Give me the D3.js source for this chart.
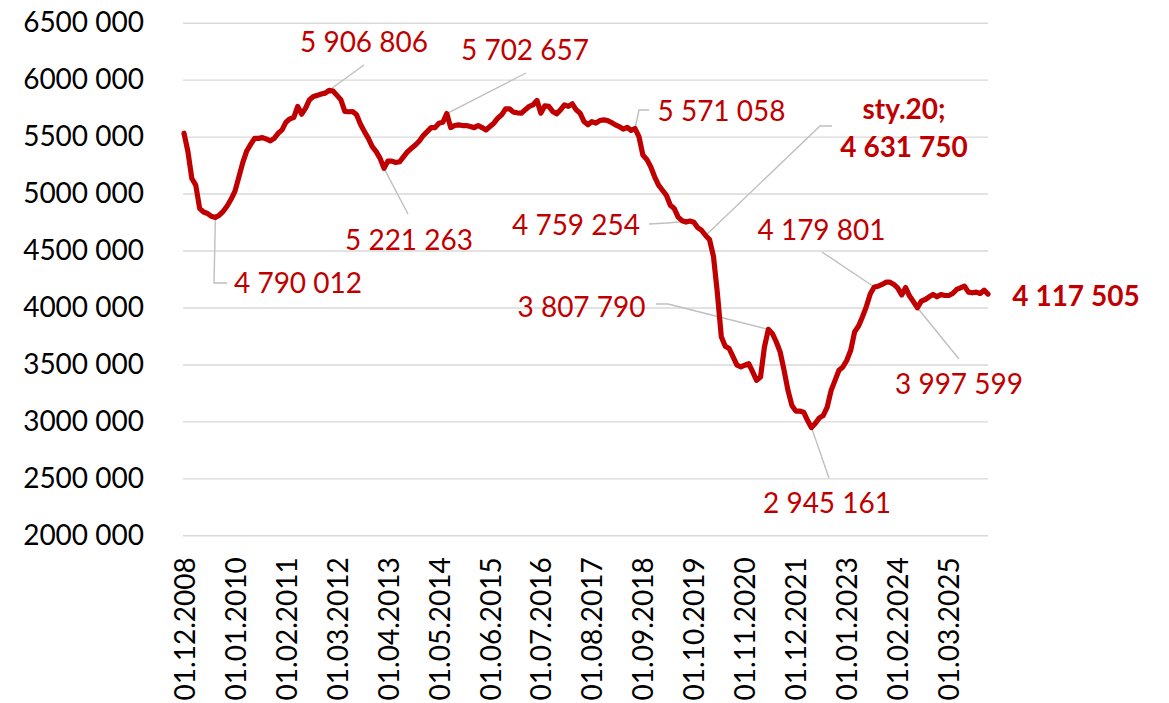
<!DOCTYPE html>
<html>
<head>
<meta charset="utf-8">
<script src="https://cdnjs.cloudflare.com/ajax/libs/d3/7.8.5/d3.min.js"></script>
<style>
  html, body { margin: 0; padding: 0; background: #ffffff; }
  svg { display: block; }
  text { font-family: Lato, "Noto Sans", sans-serif; }
</style>
</head>
<body>
<svg id="chart" width="1169" height="703"></svg>
<script>
// ---------------- data ----------------
const startMonth = [2008, 12];      // first category: 01.12.2008 (monthly series)
const values = [
  5530000, 5368000, 5132000, 5074000, 4868000, 4838000, 4825000, 4800000, 4790012, 4810000,
  4844000, 4891000, 4950000, 5021000, 5147000, 5274000, 5374000, 5432000, 5485000, 5485000,
  5491000, 5479000, 5462000, 5485000, 5529000, 5559000, 5627000, 5656000, 5668000, 5765000,
  5697000, 5750000, 5824000, 5853000, 5862000, 5874000, 5882000, 5906806, 5900000, 5862000,
  5824000, 5721000, 5718000, 5720000, 5691000, 5609000, 5544000, 5485000, 5412000, 5368000,
  5309000, 5221263, 5285000, 5285000, 5273000, 5279000, 5324000, 5368000, 5397000, 5426000,
  5462000, 5509000, 5544000, 5579000, 5579000, 5618000, 5626000, 5702657, 5579000, 5597000,
  5603000, 5597000, 5597000, 5588000, 5579000, 5597000, 5579000, 5559000, 5588000, 5618000,
  5662000, 5691000, 5744000, 5744000, 5715000, 5709000, 5706000, 5735000, 5765000, 5779000,
  5818000, 5706000, 5771000, 5765000, 5721000, 5700000, 5735000, 5779000, 5765000, 5788000,
  5735000, 5706000, 5632000, 5603000, 5632000, 5618000, 5641000, 5647000, 5641000, 5624000,
  5603000, 5588000, 5565000, 5582000, 5555000, 5571058, 5500000, 5338000, 5300000, 5235000,
  5147000, 5074000, 5029000, 4985000, 4897000, 4868000, 4794000, 4762000, 4750000, 4759254,
  4748000, 4700000, 4676000, 4631750, 4596000, 4449000, 4125000, 3743000, 3660000, 3640000,
  3566000, 3493000, 3478000, 3493000, 3507000, 3434000, 3360000, 3390000, 3654000, 3807790,
  3772000, 3699000, 3610000, 3449000, 3272000, 3140000, 3090000, 3090000, 3081000, 3007000,
  2945161, 2984000, 3031000, 3052000, 3125000, 3272000, 3360000, 3449000, 3478000, 3537000,
  3625000, 3787000, 3837000, 3919000, 4010000, 4120000, 4179801, 4187000, 4202000, 4222000,
  4222000, 4202000, 4170000, 4110000, 4175000, 4100000, 4050000, 3997599, 4056000, 4070000,
  4094000, 4114000, 4094000, 4114000, 4105000, 4105000, 4123000, 4158000, 4173000, 4187000,
  4135000, 4129000, 4135000, 4123000, 4152000, 4117505
];
const xTickLabels = [
  "01.12.2008", "01.01.2010", "01.02.2011", "01.03.2012", "01.04.2013", "01.05.2014",
  "01.06.2015", "01.07.2016", "01.08.2017", "01.09.2018", "01.10.2019", "01.11.2020",
  "01.12.2021", "01.01.2023", "01.02.2024", "01.03.2025"
];
const yTickValues = [2000000, 2500000, 3000000, 3500000, 4000000, 4500000, 5000000, 5500000, 6000000, 6500000];
const yTickLabels = ["2000 000", "2500 000", "3000 000", "3500 000", "4000 000", "4500 000", "5000 000", "5500 000", "6000 000", "6500 000"];
// annotated points: category label and printed text
const annotationDates = ["01.08.2009", "01.01.2012", "01.03.2013", "01.07.2014", "01.07.2018", "01.09.2019", "01.05.2021", "01.04.2022", "01.08.2023", "01.07.2024"];
const annotationTexts = ["4 790 012", "5 906 806", "5 221 263", "5 702 657", "5 571 058", "4 759 254", "3 807 790", "2 945 161", "4 179 801", "3 997 599"];
const highlightDate = "01.01.2020";
const highlightLines = ["sty.20;", "4 631 750"];
const lastText = "4 117 505";

// categories (monthly dates)
const categories = values.map((_, i) => {
  const m0 = startMonth[1] - 1 + i;
  const y = startMonth[0] + Math.floor(m0 / 12);
  const m = (m0 % 12) + 1;
  return "01." + String(m).padStart(2, "0") + "." + y;
});

// ---------------- layout ----------------
const RED = "#c00000";
const GRID = "#d9d9d9";
const LEADER = "#bfbfbf";
const FS = 28;
const plot = { left: 184, right: 988, top: 22.7, bottom: 535.3 };

const svg = d3.select("#chart");

const x = d3.scalePoint().domain(categories).range([plot.left, plot.right]);
const y = d3.scaleLinear().domain([2000000, 6500000]).range([plot.bottom, plot.top]);

// gridlines
const yAxis = d3.axisLeft(y)
  .tickValues(yTickValues)
  .tickSize(-(plot.right - plot.left + 1))
  .tickPadding(39)
  .tickFormat((d, i) => yTickLabels[i]);

const gy = svg.append("g")
  .attr("transform", `translate(${plot.left - 1},0)`)
  .call(yAxis);
gy.select(".domain").remove();
gy.selectAll(".tick line").attr("stroke", GRID).attr("stroke-width", 1.4);
gy.selectAll(".tick text")
  .attr("fill", "#000")
  .style("font-size", FS + "px")
  .style("font-family", "Lato, 'Noto Sans', sans-serif");

// x axis labels
const xAxis = d3.axisBottom(x)
  .tickValues(xTickLabels)
  .tickSize(0)
  .tickPadding(0);
const gx = svg.append("g")
  .attr("transform", `translate(0,${plot.bottom})`)
  .call(xAxis);
gx.select(".domain").remove();
gx.selectAll(".tick text")
  .attr("fill", "#000")
  .attr("transform", "translate(0,22) rotate(-90)")
  .attr("x", 0)
  .attr("y", 0)
  .attr("dy", "0.36em")
  .attr("text-anchor", "end")
  .style("font-size", FS + "px")
  .style("font-family", "Lato, 'Noto Sans', sans-serif");

// leaders (drawn under the line)
const pt = (date) => {
  const i = categories.indexOf(date);
  return [x(date), y(values[i])];
};
// leader end points & label centres (layout)
const leaderEnds = [
  [[214, 283], [227, 283]],
  [[364, 65]],
  [[408, 214]],
  [[526, 73]],
  [[639, 110], [649, 110]],
  [[667, 223], [649, 224]],
  [[668, 304], [656, 304]],
  [[829, 478]],
  [[822, 252]],
  [[959, 359]]
];
const labelPos = [
  [298, 293], [364, 52], [409, 250], [525, 60], [721.5, 121],
  [576, 235], [581.5, 316.5], [827, 513], [821.5, 240], [959, 394]
];

const lineGen = d3.line();
const leaders = svg.append("g");
annotationDates.forEach((d, k) => {
  leaders.append("path")
    .attr("d", lineGen([pt(d), ...leaderEnds[k]]))
    .attr("fill", "none")
    .attr("stroke", LEADER)
    .attr("stroke-width", 1.4);
});
leaders.append("path")
  .attr("d", lineGen([pt(highlightDate), [820, 126], [832, 126]]))
  .attr("fill", "none")
  .attr("stroke", LEADER)
  .attr("stroke-width", 1.4);

// main line
const series = categories.map((c, i) => ({ c, v: values[i] }));
svg.append("path")
  .datum(series)
  .attr("d", d3.line().x(d => x(d.c)).y(d => y(d.v)))
  .attr("fill", "none")
  .attr("stroke", RED)
  .attr("stroke-width", 5.2)
  .attr("stroke-linejoin", "round")
  .attr("stroke-linecap", "round");

// labels
const labels = svg.append("g")
  .style("font-size", FS + "px")
  .attr("fill", RED)
  .attr("text-anchor", "middle");
annotationTexts.forEach((t, k) => {
  labels.append("text")
    .attr("x", labelPos[k][0])
    .attr("y", labelPos[k][1])
    .text(t);
});
highlightLines.forEach((t, k) => {
  labels.append("text")
    .attr("x", 904)
    .attr("y", k === 0 ? 119 : 157)
    .attr("font-weight", "bold")
    .text(t);
});
labels.append("text")
  .attr("x", 1076)
  .attr("y", 306)
  .attr("font-weight", "bold")
  .text(lastText);
</script>
</body>
</html>
